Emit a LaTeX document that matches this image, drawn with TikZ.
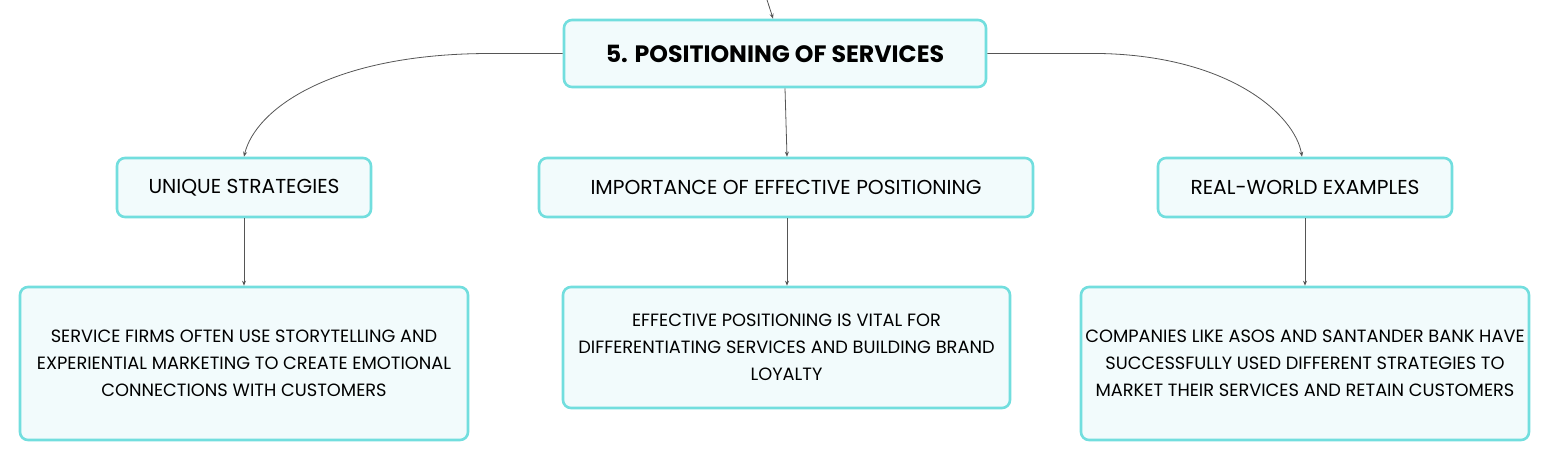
\documentclass[tikz,border=0pt]{standalone}
\usepackage{fontspec}
\setmainfont{Poppins}
\usetikzlibrary{arrows.meta}
\definecolor{bordc}{HTML}{72DEDE}
\definecolor{fillc}{HTML}{F2FBFC}
\definecolor{linec}{HTML}{555555}
\begin{document}
\begin{tikzpicture}[x=1pt,y=-1pt,
  box/.style={draw=bordc,fill=fillc,line width=2.6pt,rounded corners=8pt,align=center,inner sep=0pt,text=black},
  conn/.style={draw=linec,line width=0.8pt,-{Stealth[length=5pt,width=4pt]}},
  lvlone/.style={box,minimum height=59pt,font=\fontsize{20.2}{24}\selectfont},
  lvltwo/.style={box,font=\fontsize{17.8}{27}\selectfont}]
\useasboundingbox (0,0) rectangle (1550,461);
\node[box,minimum width=422pt,minimum height=67pt,font=\fontsize{23.7}{28}\selectfont\bfseries] (root) at (775,53.5) {5. POSITIONING OF SERVICES};
\node[lvlone,minimum width=254pt] (u1) at (244,187.5) {UNIQUE STRATEGIES};
\node[lvlone,minimum width=494pt] (u2) at (786,187.5) {IMPORTANCE OF EFFECTIVE POSITIONING};
\node[lvlone,minimum width=294pt] (u3) at (1305,187.5) {REAL-WORLD EXAMPLES};
\node[lvltwo,minimum width=448pt,minimum height=153pt] (d1) at (244,363.5) {SERVICE FIRMS OFTEN USE STORYTELLING AND\\EXPERIENTIAL MARKETING TO CREATE EMOTIONAL\\CONNECTIONS WITH CUSTOMERS};
\node[lvltwo,minimum width=447pt,minimum height=121pt] (d2) at (786.5,347.5) {EFFECTIVE POSITIONING IS VITAL FOR\\DIFFERENTIATING SERVICES AND BUILDING BRAND\\LOYALTY};
\node[lvltwo,minimum width=448pt,minimum height=153pt] (d3) at (1305,363.5) {COMPANIES LIKE ASOS AND SANTANDER BANK HAVE\\SUCCESSFULLY USED DIFFERENT STRATEGIES TO\\MARKET THEIR SERVICES AND RETAIN CUSTOMERS};
\coordinate (top) at (766,-3);
\draw[conn] (top) .. controls (769,6) and (771,12) .. (root.north -| 773,0);
\draw[conn] (root.west) -- (490,53.5) .. controls (330,53.5) and (255,110) .. (u1.north);
\draw[conn] (root.east) -- (1100,53.5) .. controls (1230,56) and (1295,115) .. (u3.north -| 1302,0);
\draw[conn] (root.south -| 785,0) -- (u2.north -| 787,0);
\draw[conn] (u1.south) -- (d1.north);
\draw[conn] (u2.south -| 787,0) -- (d2.north -| 787,0);
\draw[conn] (u3.south) -- (d3.north);
\end{tikzpicture}
\end{document}
